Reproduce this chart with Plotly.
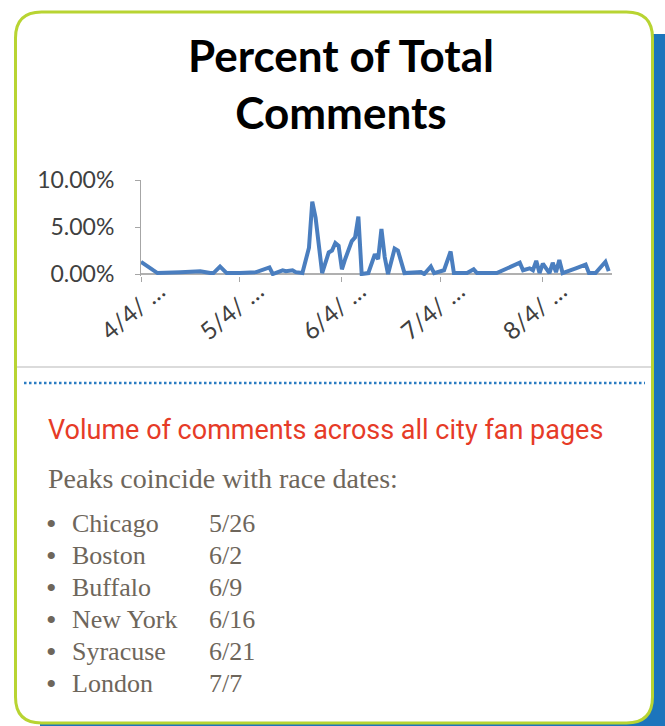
import plotly.graph_objects as go

W, H = 665, 726

# ---------------- data ----------------
dates = [
    "2011-04-04", "2011-04-09", "2011-04-16", "2011-04-22", "2011-04-25", "2011-04-26",
    "2011-04-28", "2011-04-30", "2011-05-04", "2011-05-09", "2011-05-13", "2011-05-14",
    "2011-05-17", "2011-05-18", "2011-05-20", "2011-05-21", "2011-05-23", "2011-05-25",
    "2011-05-26", "2011-05-27", "2011-05-29", "2011-05-31", "2011-06-01", "2011-06-02",
    "2011-06-03", "2011-06-04", "2011-06-05", "2011-06-07", "2011-06-08", "2011-06-09",
    "2011-06-10", "2011-06-12", "2011-06-14", "2011-06-15", "2011-06-16", "2011-06-17",
    "2011-06-18", "2011-06-20", "2011-06-21", "2011-06-23", "2011-06-28", "2011-06-29",
    "2011-07-01", "2011-07-02", "2011-07-05", "2011-07-07", "2011-07-08", "2011-07-12",
    "2011-07-14", "2011-07-15", "2011-07-21", "2011-07-28", "2011-07-29", "2011-07-31",
    "2011-08-01", "2011-08-02", "2011-08-03", "2011-08-04", "2011-08-06", "2011-08-07",
    "2011-08-08", "2011-08-09", "2011-08-10", "2011-08-12", "2011-08-14", "2011-08-17",
    "2011-08-18", "2011-08-20", "2011-08-23", "2011-08-24",
]
pct_values = [
    1.3, 0.1, 0.2, 0.3, 0.1, 0.1,
    0.8, 0.1, 0.1, 0.2, 0.7, 0.0,
    0.4, 0.3, 0.4, 0.2, 0.1, 2.8,
    7.7, 6.0, 0.1, 2.3, 2.5, 3.3,
    3.0, 0.5, 1.6, 3.5, 3.9, 6.1,
    0.0, 0.1, 2.1, 1.6, 4.8, 1.8,
    0.0, 2.7, 2.5, 0.1, 0.2, 0.0,
    0.8, 0.1, 0.4, 2.4, 0.1, 0.1,
    0.5, 0.1, 0.1, 1.2, 0.4, 0.6,
    0.4, 1.4, 0.1, 1.1, 0.1, 1.2,
    0.2, 1.5, 0.1, 0.3, 0.6, 1.0,
    0.1, 0.1, 1.3, 0.3,
]
tick_dates = ["2011-04-04", "2011-05-04", "2011-06-04", "2011-07-04", "2011-08-04"]
tick_labels = ["4/4/ …", "5/4/ …", "6/4/ …", "7/4/ …", "8/4/ …"]
y_ticks = [0, 5, 10]
y_tick_labels = ["0.00%", "5.00%", "10.00%"]

chart_title = "Percent of Total<br>Comments"
subtitle = "Volume of comments across all city fan pages"
intro = "Peaks coincide with race dates:"
cities = ["Chicago", "Boston", "Buffalo", "New York", "Syracuse", "London"]
race_dates = ["5/26", "6/2", "6/9", "6/16", "6/21", "7/7"]


# ---------------- helpers: pixel -> paper ----------------
def px(x):
    return x / W


def py(y):
    return 1 - y / H


def rounded_rect(x0, y0, x1, y1, r):
    return (
        f"M {px(x0 + r)},{py(y0)} L {px(x1 - r)},{py(y0)} "
        f"Q {px(x1)},{py(y0)} {px(x1)},{py(y0 + r)} L {px(x1)},{py(y1 - r)} "
        f"Q {px(x1)},{py(y1)} {px(x1 - r)},{py(y1)} L {px(x0 + r)},{py(y1)} "
        f"Q {px(x0)},{py(y1)} {px(x0)},{py(y1 - r)} L {px(x0)},{py(y0 + r)} "
        f"Q {px(x0)},{py(y0)} {px(x0 + r)},{py(y0)} Z"
    )


fig = go.Figure()
fig.add_trace(
    go.Scatter(
        x=dates,
        y=pct_values,
        mode="lines",
        line=dict(color="#4a7ebf", width=4),
        hoverinfo="skip",
    )
)

shapes = [
    # blue shadow behind the card
    dict(type="path", xref="paper", yref="paper", layer="below",
         path=rounded_rect(40, 34, 690, 760, 24),
         fillcolor="#1c75bc", line=dict(width=0)),
    # card with lime border
    dict(type="path", xref="paper", yref="paper", layer="below",
         path=rounded_rect(15.5, 12, 652.5, 723, 26),
         fillcolor="white", line=dict(color="#b8d432", width=3)),
    # grey separator
    dict(type="line", xref="paper", yref="paper", layer="below",
         x0=px(17), x1=px(651), y0=py(367), y1=py(367),
         line=dict(color="#cfcfcf", width=1.5)),
    # dotted blue rule
    dict(type="line", xref="paper", yref="paper", layer="below",
         x0=px(24), x1=px(645), y0=py(383), y1=py(383),
         line=dict(color="#2b7cc2", width=2.5, dash="2.5px,2.5px")),
]

grey_text = "#6e665b"
annotations = [
    dict(text=subtitle, x=px(46), y=py(430), xref="paper", yref="paper",
         xanchor="left", yanchor="middle", showarrow=False,
         font=dict(family="Roboto", size=27, color="#e63b27")),
    dict(text=intro, x=px(46), y=py(478), xref="paper", yref="paper",
         xanchor="left", yanchor="middle", showarrow=False,
         font=dict(family="Liberation Serif", size=28, color=grey_text)),
]
for i, (city, d) in enumerate(zip(cities, race_dates)):
    yrow = py(523 + i * 32)
    annotations.append(dict(text="•", x=px(51), y=yrow, xref="paper", yref="paper",
                            xanchor="center", yanchor="middle", showarrow=False,
                            font=dict(family="Liberation Serif", size=30, color=grey_text)))
    annotations.append(dict(text=city, x=px(70), y=yrow, xref="paper", yref="paper",
                            xanchor="left", yanchor="middle", showarrow=False,
                            font=dict(family="Liberation Serif", size=26, color=grey_text)))
    annotations.append(dict(text=d, x=px(207), y=yrow, xref="paper", yref="paper",
                            xanchor="left", yanchor="middle", showarrow=False,
                            font=dict(family="Liberation Serif", size=26, color=grey_text)))

axis_grey = "#a6a6a6"
tick_font = dict(family="Lato", size=23, color="#404040")

fig.update_layout(
    width=W,
    height=H,
    margin=dict(l=0, r=0, t=0, b=0, pad=0, autoexpand=False),
    paper_bgcolor="white",
    plot_bgcolor="rgba(0,0,0,0)",
    showlegend=False,
    title=dict(text=chart_title, x=px(341), y=py(72), xref="paper", yref="paper",
               xanchor="center", yanchor="middle", automargin=False,
               font=dict(family="Lato", size=44, color="black", weight="bold")),
    xaxis=dict(
        domain=[px(141), px(612)],
        type="date",
        range=["2011-04-04", "2011-08-25"],
        tickvals=tick_dates,
        ticktext=tick_labels,
        tickangle=-40,
        ticks="outside",
        ticklen=5,
        tickcolor=axis_grey,
        showgrid=False,
        showline=False,
        zeroline=False,
        tickfont=dict(family="Lato", size=24, color="#404040"),
        ticklabelshift=18,
        ticklabelstandoff=-14,
        automargin=False,
        fixedrange=True,
    ),
    yaxis=dict(
        domain=[py(275.9), py(180)],
        range=[-0.2, 10],
        tickvals=y_ticks,
        ticktext=y_tick_labels,
        ticks="outside",
        ticklen=5,
        tickcolor=axis_grey,
        showline=True,
        linecolor=axis_grey,
        linewidth=1,
        zeroline=True,
        zerolinecolor="#b0b0b0",
        zerolinewidth=1.5,
        showgrid=False,
        tickfont=tick_font,
        ticklabelstandoff=16,
        automargin=False,
        fixedrange=True,
    ),
    shapes=shapes,
    annotations=annotations,
)

fig.write_html(
    "out.html",
    config={"displayModeBar": False},
    post_script="document.body.style.margin='0';document.body.style.overflow='hidden';",
)
